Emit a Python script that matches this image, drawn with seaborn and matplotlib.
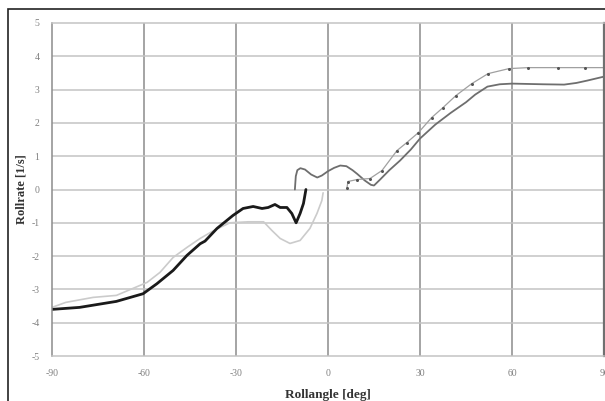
import numpy as np
import pandas as pd
import seaborn as sns
import matplotlib.pyplot as plt
from matplotlib.patches import Rectangle

# black (thick) run
black_x = [-90, -81, -69, -60.3, -55.8, -50.5, -46, -41.7, -40.1, -36.2, -31, -27.7, -24.4,
           -21.5, -19.5, -17.3, -15.6, -13.4, -11.8, -10.4, -9.1, -8.0, -7.2]
black_y = [-3.6, -3.54, -3.36, -3.13, -2.83, -2.43, -1.98, -1.63, -1.55, -1.17, -0.78, -0.57, -0.51,
           -0.57, -0.54, -0.45, -0.54, -0.54, -0.72, -1.0, -0.72, -0.42, 0.0]

# light grey run
light_x = [-90, -85.5, -76.6, -69, -63.6, -59, -54.8, -50.5, -46, -41.7, -37, -32, -26, -21,
           -18.3, -15.6, -12.4, -9.1, -5.9, -3.6, -2.0, -1.6]
light_y = [-3.54, -3.39, -3.24, -3.18, -2.97, -2.79, -2.49, -2.04, -1.74, -1.47, -1.22, -1.0, -0.97, -0.97,
           -1.23, -1.47, -1.62, -1.53, -1.17, -0.72, -0.33, -0.1]

# medium grey run
mid_x = [-10.8, -10.5, -10, -9, -7.5, -5.5, -3.5, -2, 0, 2, 4, 6, 8, 9.5, 12, 14, 15, 17, 20, 23.5,
         27, 30, 35, 40, 45, 48, 52, 56, 60, 70, 77, 81, 84.5, 90]
mid_y = [0.0, 0.4, 0.58, 0.64, 0.6, 0.45, 0.36, 0.42, 0.55, 0.65, 0.72, 0.7, 0.58, 0.47, 0.27, 0.14, 0.12, 0.3, 0.58, 0.87,
         1.2, 1.53, 1.95, 2.3, 2.62, 2.85, 3.09, 3.16, 3.18, 3.16, 3.15, 3.2, 3.27, 3.39]

# dotted run with markers
dot_x = [6.2, 6.5, 9.5, 13.7, 17.6, 22.5, 25.7, 29.5, 33.8, 37.5, 41.7, 46.9, 52.2, 59.0, 65.2, 75, 83.8, 90]
dot_y = [0.06, 0.24, 0.3, 0.33, 0.57, 1.17, 1.41, 1.71, 2.16, 2.46, 2.82, 3.18, 3.48, 3.63, 3.66, 3.66, 3.66, 3.66]

x_ticks = [-90, -60, -30, 0, 30, 60, 90]
y_ticks = [-5, -4, -3, -2, -1, 0, 1, 2, 3, 4, 5]

sns.set_style("white")
plt.rcParams['font.family'] = ['Liberation Serif', 'DejaVu Serif']
plt.rcParams['axes.unicode_minus'] = False

fig = plt.figure(figsize=(6.05, 4.01), dpi=100)
ax = fig.add_axes([52 / 605, 1 - 356 / 401, 552 / 605, 333 / 401])

vcol = '#8c8c8c'
hcol = '#c4c4c4'
for v in x_ticks[1:-1]:
    ax.axvline(v, color=vcol, lw=1.1, zorder=0)
for h in y_ticks[1:-1]:
    ax.axhline(h, color=hcol, lw=1.1, zorder=0)

sns.lineplot(x=light_x, y=light_y, ax=ax, color='#cbcbcb', lw=1.2, sort=False, estimator=None)
sns.lineplot(x=mid_x, y=mid_y, ax=ax, color='#6e6e6e', lw=1.3, sort=False, estimator=None)
sns.lineplot(x=dot_x, y=dot_y, ax=ax, color='#a0a0a0', lw=0.9, sort=False, estimator=None,
             marker='o', markersize=2.2, markeredgewidth=0, markerfacecolor='#555555')
sns.lineplot(x=black_x, y=black_y, ax=ax, color='#1a1a1a', lw=2.0, sort=False, estimator=None)

ax.set_xlim(-90, 90)
ax.set_ylim(-5, 5)
ax.set_xticks(x_ticks)
ax.set_yticks(y_ticks)
ax.tick_params(length=0, labelsize=7, labelcolor='#808080', pad=9)

for s in ['left', 'right']:
    ax.spines[s].set_color(vcol)
    ax.spines[s].set_linewidth(1.1)
ax.spines['right'].set_color('#707070')
ax.spines['right'].set_linewidth(1.6)
for s in ['top', 'bottom']:
    ax.spines[s].set_color(hcol)
    ax.spines[s].set_linewidth(1.1)

ax.set_xlabel('Rollangle [deg]', fontsize=9.5, fontweight='bold', color='#333333', labelpad=8)
ax.set_ylabel('Rollrate [1/s]', fontsize=9, fontweight='bold', color='#333333')
ax.yaxis.set_label_coords(-0.0435, 0.5)

# outer frame
fig.patches.append(Rectangle((8 / 605, -0.05), 1.1, 1 - 9 / 401 + 0.05, transform=fig.transFigure,
                             fill=False, edgecolor='#222222', lw=1.2, zorder=10))

fig.savefig('out.png', dpi=100)
